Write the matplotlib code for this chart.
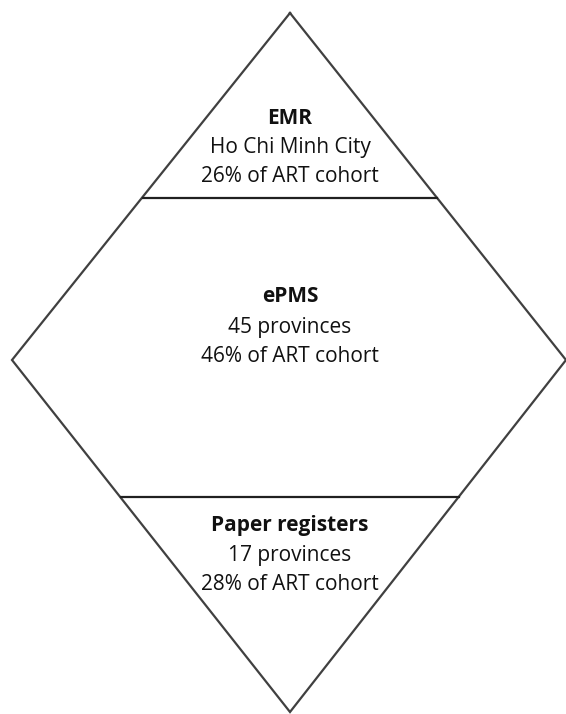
import matplotlib
matplotlib.use("Agg")
import matplotlib.pyplot as plt

# Tiers of the diamond, top to bottom
systems = ["EMR", "ePMS", "Paper registers"]
coverage = ["Ho Chi Minh City", "45 provinces", "17 provinces"]
cohort_pct = [26, 46, 28]

W, H = 566, 714
fig = plt.figure(figsize=(W / 100, H / 100), dpi=100)
ax = fig.add_axes([0, 0, 1, 1])
ax.set_xlim(0, W)
ax.set_ylim(H, 0)
ax.axis("off")

# diamond outline (pixel coords)
top, left, right, bottom = (290, 13), (12, 360), (566, 360), (290, 712)
xs = [top[0], right[0], bottom[0], left[0], top[0]]
ys = [top[1], right[1], bottom[1], left[1], top[1]]
ax.plot(xs, ys, color="#404040", lw=1.6, solid_joinstyle="miter", clip_on=False)

# horizontal dividers
def half_width(y):
    if y <= left[1]:
        return (y - top[1]) / (left[1] - top[1]) * (right[0] - top[0])
    return (bottom[1] - y) / (bottom[1] - left[1]) * (right[0] - top[0])

for y in [198, 497]:
    hw = half_width(y)
    ax.plot([top[0] - hw, top[0] + hw], [y, y], color="#202020", lw=1.6)

font = "Open Sans"
centres = [148, 327, 555]
for name, cov, pct, yc in zip(systems, coverage, cohort_pct, centres):
    ax.text(290, yc - 30, name, ha="center", va="center", fontsize=15,
            fontweight="bold", family=font, color="#111111")
    ax.text(290, yc, cov, ha="center", va="center", fontsize=15,
            family=font, color="#111111")
    ax.text(290, yc + 29, f"{pct}% of ART cohort", ha="center", va="center",
            fontsize=15, family=font, color="#111111")

fig.savefig("out.png", dpi=100, facecolor="white")
